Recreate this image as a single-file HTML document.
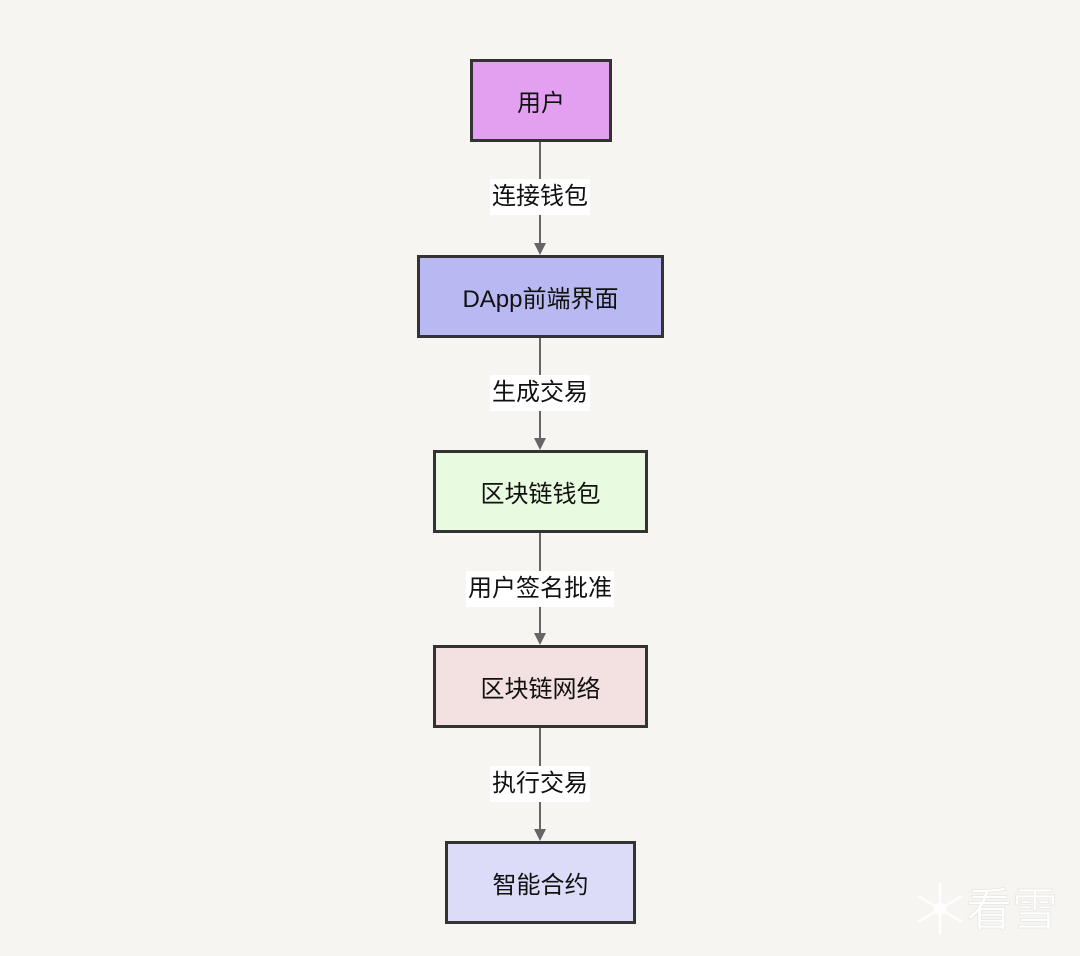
<!DOCTYPE html>
<html><head><meta charset="utf-8"><style>
body{margin:0;width:1080px;height:956px;background:#f6f5f1;position:relative;overflow:hidden;font-family:"Liberation Sans","Noto Sans CJK SC",sans-serif;}
.b{position:absolute;box-sizing:border-box;border:3px solid #333;display:flex;align-items:center;justify-content:center;font-size:24px;color:#111;}
.l{position:absolute;left:540px;transform:translate(-50%,-50%);background:#fff;font-size:24px;color:#111;padding:3px 2px;line-height:30px;white-space:nowrap;}
</style></head><body>
<svg width="1080" height="956" style="position:absolute;left:0;top:0">
<g stroke="#666" stroke-width="2">
<line x1="540" y1="141" x2="540" y2="245"/><line x1="540" y1="337" x2="540" y2="440"/>
<line x1="540" y1="532" x2="540" y2="635"/><line x1="540" y1="727" x2="540" y2="831"/>
</g>
<g fill="#666">
<polygon points="534,243 546,243 540,255"/><polygon points="534,438 546,438 540,450"/>
<polygon points="534,633 546,633 540,645"/><polygon points="534,829 546,829 540,841"/>
</g>
<g stroke="#fff" stroke-width="2.5" fill="none" opacity="0.95">
<g transform="translate(940,909)">
<line x1="0" y1="-26" x2="0" y2="26"/><line x1="-22" y1="-13" x2="22" y2="13"/><line x1="-22" y1="13" x2="22" y2="-13"/>
<circle r="5"/>
</g>
</g>
<text x="1012" y="926" font-size="46" fill="#fff" text-anchor="middle" font-family="Noto Sans CJK SC,sans-serif" stroke="#ddd" stroke-width="0.5">看雪</text>
</svg>
<div class="b" style="left:470px;top:59px;width:142px;height:83px;background:#e4a0f0">用户</div>
<div class="b" style="left:417px;top:255px;width:247px;height:83px;background:#b8b8f2">DApp前端界面</div>
<div class="b" style="left:433px;top:450px;width:215px;height:83px;background:#e8fbe0">区块链钱包</div>
<div class="b" style="left:433px;top:645px;width:215px;height:83px;background:#f3e0e0">区块链网络</div>
<div class="b" style="left:445px;top:841px;width:191px;height:83px;background:#dcdcf8">智能合约</div>
<div class="l" style="top:197px">连接钱包</div>
<div class="l" style="top:393px">生成交易</div>
<div class="l" style="top:589px">用户签名批准</div>
<div class="l" style="top:784px">执行交易</div>
</body></html>
